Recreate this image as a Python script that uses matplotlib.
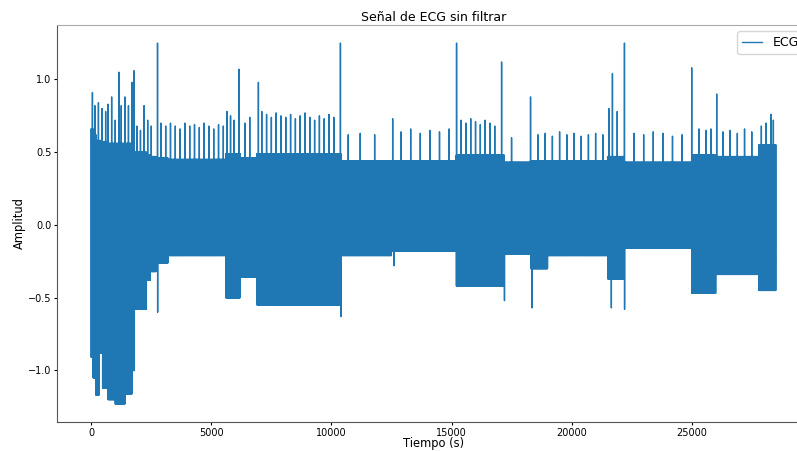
import matplotlib
matplotlib.use('Agg')
import matplotlib.pyplot as plt
import numpy as np

# tramos de la envolvente (inicio, fin) en segundos, con el nivel superior e inferior de la banda
tramo_ini = [0, 80, 200, 320, 470, 700, 1000, 1400, 1700, 1800, 2300, 2450, 2700, 3200, 5600, 6200, 6900, 10400, 12500, 15200, 17200, 18300, 19000, 21500, 22200, 25000, 26000, 27800]
tramo_fin = [80, 200, 320, 470, 700, 1000, 1400, 1700, 1800, 2300, 2450, 2700, 3200, 5600, 6200, 6900, 10400, 12500, 15200, 17200, 18300, 19000, 21500, 22200, 25000, 26000, 27800, 28500]
sup = [0.66, 0.62, 0.58, 0.58, 0.57, 0.56, 0.56, 0.56, 0.55, 0.50, 0.48, 0.47, 0.46, 0.45, 0.49, 0.46, 0.49, 0.44, 0.44, 0.48, 0.43, 0.44, 0.44, 0.47, 0.43, 0.48, 0.47, 0.55]
inf = [-0.91, -1.05, -1.17, -0.88, -1.12, -1.20, -1.23, -1.16, -1.00, -0.58, -0.38, -0.32, -0.26, -0.21, -0.50, -0.36, -0.55, -0.21, -0.18, -0.42, -0.20, -0.30, -0.21, -0.37, -0.16, -0.47, -0.34, -0.45]

# picos hacia arriba (tiempo, amplitud)
picos_t = [50, 150, 300, 450, 600, 700, 850, 1000, 1150, 1250, 1400, 1550, 1700, 1780, 1900, 2050, 2200, 2350, 2500, 2760,
           2900, 3100, 3300, 3500, 3700, 3900, 4100, 4300, 4500, 4700, 4900, 5100, 5300, 5500,
           5650, 5800, 5950, 6150, 6400, 6600, 6960, 7100, 7300, 7500, 7700, 7900, 8100, 8300, 8500, 8700, 8900, 9100, 9300, 9500, 9700, 9900, 10100, 10375,
           10700, 11200, 11800, 12550, 12900, 13300, 13700, 14100, 14500, 14900, 15208,
           15400, 15600, 15800, 16000, 16200, 16400, 16600, 16800, 17083, 17500, 18290,
           18600, 18900, 19200, 19500, 19800, 20100, 20400, 20700, 21000, 21300, 21550, 21700, 21900, 22200,
           22600, 23000, 23400, 23800, 24200, 24600, 25000, 25300, 25600, 25800, 26040, 26300, 26600, 26900, 27200, 27500, 27900, 28100, 28300, 28400]
picos_v = [0.91, 0.82, 0.84, 0.80, 0.78, 0.83, 0.88, 0.72, 1.05, 0.82, 0.88, 0.82, 0.98, 1.06, 0.68, 0.65, 0.82, 0.72, 0.68, 1.25,
           0.70, 0.68, 0.70, 0.68, 0.66, 0.70, 0.68, 0.69, 0.67, 0.70, 0.68, 0.66, 0.69, 0.68,
           0.78, 0.75, 0.72, 1.07, 0.70, 0.74, 0.98, 0.78, 0.76, 0.74, 0.77, 0.75, 0.74, 0.76, 0.73, 0.75, 0.77, 0.74, 0.72, 0.75, 0.73, 0.76, 0.74, 1.25,
           0.62, 0.63, 0.62, 0.73, 0.64, 0.66, 0.63, 0.65, 0.64, 0.66, 1.25,
           0.72, 0.70, 0.73, 0.71, 0.69, 0.72, 0.70, 0.68, 1.12, 0.60, 0.88,
           0.62, 0.63, 0.61, 0.64, 0.62, 0.63, 0.61, 0.62, 0.63, 0.62, 0.80, 1.04, 0.78, 1.25,
           0.63, 0.62, 0.64, 0.63, 0.61, 0.62, 1.08, 0.66, 0.65, 0.66, 0.90, 0.64, 0.65, 0.63, 0.66, 0.64, 0.68, 0.70, 0.76, 0.72]

# picos hacia abajo (tiempo, amplitud)
valles_t = [2760, 10400, 12600, 17200, 18350, 21650, 22200]
valles_v = [-0.60, -0.63, -0.28, -0.52, -0.57, -0.57, -0.58]

paso = 5.0
tiempo = np.arange(0, tramo_fin[-1] + paso, paso)
idx = np.clip(np.searchsorted(tramo_ini, tiempo, side='right') - 1, 0, len(tramo_ini) - 1)
senal = np.where(np.arange(len(tiempo)) % 2 == 0, np.array(sup)[idx], np.array(inf)[idx])
for t, v in zip(picos_t, picos_v):
    senal[int(round(t / paso))] = v
for t, v in zip(valles_t, valles_v):
    senal[int(round(t / paso)) + 1] = v

fig = plt.figure(figsize=(7.97, 4.51), dpi=100)
ax = fig.add_axes([57 / 797, 29 / 451, 753 / 797, 397 / 451])
ax.plot(tiempo, senal, color='#1f77b4', linewidth=1.0, label='ECG')
ax.set_title('Señal de ECG sin filtrar', fontsize=9, pad=3)
ax.set_xlabel('Tiempo (s)', fontsize=8.3)
ax.set_ylabel('Amplitud', fontsize=8.3)
ax.xaxis.set_label_coords(0.5, -0.039)
ax.yaxis.set_label_coords(-0.041, 0.5)
ax.tick_params(labelsize=7, length=2.5, pad=1.5)
ax.set_yticks([-1.0, -0.5, 0.0, 0.5, 1.0])
ax.legend(loc='upper right', fontsize=9, handlelength=1.6)
for s in ax.spines.values():
    s.set_color('#555555')
    s.set_linewidth(0.8)
ax.spines['top'].set_color('#aaaaaa')

fig.savefig('out.png', dpi=100)
